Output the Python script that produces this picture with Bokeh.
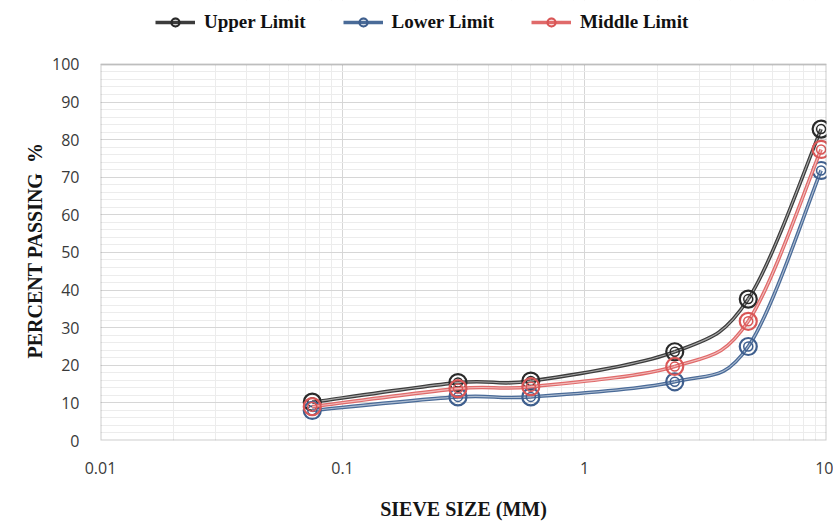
import math
from bokeh.plotting import figure
from bokeh.models import (FixedTicker, Legend, LegendItem, ColumnDataSource, Range1d,
                          CustomJSTickFormatter, BoxAnnotation, Title)
from bokeh.embed import file_html
from bokeh.resources import INLINE

# ---------------- data ----------------
sieve_mm = [0.075, 0.3, 0.6, 2.36, 4.75, 9.5]
upper_limit = [10.2, 15.4, 15.8, 23.6, 37.6, 82.8]
lower_limit = [8.0, 11.6, 11.6, 15.6, 25.0, 71.8]
middle_limit = [9.0, 13.8, 14.3, 19.7, 31.7, 77.4]

series_names = ["Upper Limit", "Lower Limit", "Middle Limit"]

x_ticks = [0.01, 0.1, 1, 10]
x_tick_labels = ["0.01", "0.1", "1", "10"]
x_minor_ticks = [0.02, 0.03, 0.04, 0.05, 0.06, 0.07, 0.08, 0.09,
                 0.2, 0.3, 0.4, 0.5, 0.6, 0.7, 0.8, 0.9,
                 2, 3, 4, 5, 6, 7, 8, 9]
y_ticks = [0, 10, 20, 30, 40, 50, 60, 70, 80, 90, 100]
y_minor_ticks = [v for v in range(0, 101, 2)]
x_lo, x_hi = 0.01, 10
y_lo, y_hi = 0, 100

x_title = "SIEVE SIZE (MM)"
y_title = "PERCENT PASSING\u00a0 %"

# ---------------- styles ----------------
line_colors = ["#3c3c3c", "#4a6b98", "#e06a6a"]
marker_colors = ["#2a2a2a", "#3f5f8e", "#d95757"]


def smooth_segments(xs, ys):
    """Bezier control points (Catmull-Rom style, like Excel's smoothed line)
    computed in log10(x) space from the data points."""
    lx = [math.log10(v) for v in xs]
    n = len(xs)
    d = dict(x0=[], y0=[], x1=[], y1=[], cx0=[], cy0=[], cx1=[], cy1=[])
    for i in range(n - 1):
        a = max(i - 1, 0)
        b = min(i + 2, n - 1)
        c1x = lx[i] + (lx[i + 1] - lx[a]) / 6.0
        c1y = ys[i] + (ys[i + 1] - ys[a]) / 6.0
        c2x = lx[i + 1] - (lx[b] - lx[i]) / 6.0
        c2y = ys[i + 1] - (ys[b] - ys[i]) / 6.0
        d["x0"].append(xs[i]); d["y0"].append(ys[i])
        d["x1"].append(xs[i + 1]); d["y1"].append(ys[i + 1])
        d["cx0"].append(10 ** c1x); d["cy0"].append(c1y)
        d["cx1"].append(10 ** c2x); d["cy1"].append(c2y)
    return d


# The frame is extended above 100 so that the legend (drawn inside the frame) is visible;
# the visible plot box (0..100) is drawn with a BoxAnnotation.
p = figure(width=833, height=522, x_axis_type="log",
           x_range=Range1d(x_lo, x_hi), y_range=Range1d(y_lo, 117.0),
           output_backend="svg", toolbar_location=None,
           min_border_left=100, min_border_right=7,
           min_border_top=0, min_border_bottom=82)

p.background_fill_color = "white"
p.border_fill_color = "white"
p.outline_line_color = None

# axes
p.xaxis.ticker = FixedTicker(ticks=x_ticks, minor_ticks=x_minor_ticks)
p.yaxis.ticker = FixedTicker(ticks=y_ticks, minor_ticks=y_minor_ticks)
p.yaxis.bounds = (y_lo, y_hi)
p.xaxis.formatter = CustomJSTickFormatter(
    args=dict(tick_vals=x_ticks, tick_labs=x_tick_labels),
    code="""
    for (let i = 0; i < tick_vals.length; i++) {
        if (Math.abs(Math.log10(tick) - Math.log10(tick_vals[i])) < 1e-6) return tick_labs[i];
    }
    return String(tick);
    """)

for ax in (p.xaxis[0], p.yaxis[0]):
    ax.axis_line_color = None
    ax.major_tick_line_color = None
    ax.minor_tick_line_color = None
    ax.major_tick_out = 0
    ax.major_tick_in = 0
    ax.major_label_text_font = "Open Sans"
    ax.major_label_text_font_size = "16px"
    ax.major_label_text_color = "#3a3a3a"
    ax.axis_label_text_font = "Liberation Serif"
    ax.axis_label_text_font_style = "bold"
    ax.axis_label_text_font_size = "20px"
    ax.axis_label_text_color = "#151515"

p.xaxis.major_label_standoff = 17
p.yaxis.major_label_standoff = 17
p.xaxis.axis_label = x_title
p.xaxis.axis_label_standoff = 21

# y title as a side title so that it can be placed along the 0..100 box
p.add_layout(Title(text=y_title, align="left", offset=82, standoff=7,
                   text_font="Liberation Serif", text_font_style="bold",
                   text_font_size="20px", text_color="#151515"), "left")

# grids
for g in (p.xgrid[0], p.ygrid[0]):
    g.grid_line_color = "#d6d6d6"
    g.grid_line_width = 1
    g.minor_grid_line_color = "#ececec"
    g.minor_grid_line_width = 1

# white cover above the 0..100 box, and the box border
p.add_layout(BoxAnnotation(bottom=y_hi, fill_color="white", fill_alpha=1,
                           line_color=None, level="glyph"))
p.add_layout(BoxAnnotation(left=x_lo, right=x_hi, bottom=y_lo, top=y_hi,
                           fill_alpha=0, line_color="#555555", line_width=2,
                           level="annotation"))

# series
items = []
for name, ys, lc, mc in zip(series_names, [upper_limit, lower_limit, middle_limit],
                            line_colors, marker_colors):
    seg = ColumnDataSource(smooth_segments(sieve_mm, ys))
    pts = ColumnDataSource(dict(x=sieve_mm, y=ys))
    r_line = p.bezier(x0="x0", y0="y0", x1="x1", y1="y1", cx0="cx0", cy0="cy0",
                      cx1="cx1", cy1="cy1", source=seg,
                      line_color=lc, line_width=3.6)
    p.bezier(x0="x0", y0="y0", x1="x1", y1="y1", cx0="cx0", cy0="cy0",
             cx1="cx1", cy1="cy1", source=seg,
             line_color="white", line_alpha=0.55, line_width=1.1)
    r_outer = p.scatter(x="x", y="y", source=pts, marker="circle", size=17,
                        fill_color=None, line_color=mc, line_width=2.2)
    r_inner = p.scatter(x="x", y="y", source=pts, marker="circle", size=9,
                        fill_color=None, line_color=mc, line_width=1.5)
    items.append(LegendItem(label=name, renderers=[r_line, r_outer, r_inner]))

legend = Legend(items=items, orientation="horizontal", location=(55, 407),
                label_text_font="Liberation Serif", label_text_font_style="bold",
                label_text_font_size="19px", label_text_color="#111111",
                glyph_width=40, glyph_height=20, label_standoff=9, spacing=37,
                padding=0, margin=0, border_line_color=None,
                background_fill_alpha=0)
p.add_layout(legend)

open("out.html", "w").write(file_html(p, INLINE))
